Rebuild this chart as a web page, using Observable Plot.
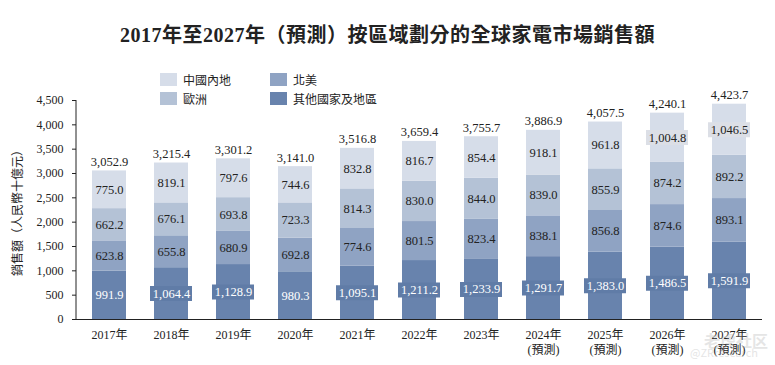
<!DOCTYPE html>
<html><head><meta charset="utf-8">
<script src="https://cdn.jsdelivr.net/npm/d3@7"></script>
<script src="https://cdn.jsdelivr.net/npm/@observablehq/plot@0.6"></script>
<style>
body{margin:0;background:#fff;}
#wrap{position:relative;width:775px;height:365px;overflow:hidden;font-family:"Liberation Serif","Noto Sans CJK TC",serif;color:#222;}
#title{position:absolute;top:22px;left:0;width:775px;text-align:center;font-size:20px;font-weight:bold;letter-spacing:0.5px;line-height:26px;}
#legend{position:absolute;left:160px;top:70px;display:grid;grid-template-columns:110px 140px;grid-auto-rows:19px;font-size:12px;}
.li{display:flex;align-items:center;}
.sw{width:17px;height:13px;margin-right:6px;}
#chart{position:absolute;left:0;top:0;}
.wm{position:absolute;color:#aaa;opacity:0.3;font-family:"Noto Sans CJK SC",sans-serif;white-space:nowrap;}
</style></head>
<body><div id="wrap"><div id="chart"></div><div id="title">2017年至2027年（預測）按區域劃分的全球家電市場銷售額</div><div id="legend"></div>
<div class="wm" style="left:704px;top:328px;font-size:16px;font-weight:bold;">老虎社区</div>
<div class="wm" style="left:690px;top:344px;font-size:11px;">@ZRresearch</div>
</div>
<script>
const years = ["2017年","2018年","2019年","2020年","2021年","2022年","2023年","2024年","2025年","2026年","2027年"];
const forecast = [false,false,false,false,false,false,false,true,true,true,true];
const regionNames = ["其他國家及地區","北美","歐洲","中國內地"];
const legendOrder = ["中國內地","北美","歐洲","其他國家及地區"];
const regionColors = ["#6883ad","#8fa3c3","#b4c2d6","#d6dde9"];
const other = [991.9,1064.4,1128.9,980.3,1095.1,1211.2,1233.9,1291.7,1383.0,1486.5,1591.9];
const northAmerica = [623.8,655.8,680.9,692.8,774.6,801.5,823.4,838.1,856.8,874.6,893.1];
const europe = [662.2,676.1,693.8,723.3,814.3,830.0,844.0,839.0,855.9,874.2,892.2];
const chinaMainland = [775.0,819.1,797.6,744.6,832.8,816.7,854.4,918.1,961.8,1004.8,1046.5];
const totals = [3052.9,3215.4,3301.2,3141.0,3516.8,3659.4,3755.7,3886.9,4057.5,4240.1,4423.7];
const yTicks = [0,500,1000,1500,2000,2500,3000,3500,4000,4500];
const yLabel = "銷售額（人民幣十億元）";

const seriesValues = [other, northAmerica, europe, chinaMainland];
const rows = [];
years.forEach((yr, i) => {
  regionNames.forEach((r, k) => rows.push({year: yr, region: r, value: seriesValues[k][i]}));
});
const fmt = d3.format(",.1f");
const colorOf = Object.fromEntries(regionNames.map((r, k) => [r, regionColors[k]]));

const legend = document.getElementById("legend");
legendOrder.forEach(r => {
  const d = document.createElement("div"); d.className = "li";
  d.innerHTML = `<span class="sw" style="background:${colorOf[r]}"></span><span>${r}</span>`;
  legend.appendChild(d);
});

const stackOpts = {x: "year", y: "value", z: "region", order: null};
const chart = Plot.plot({
  width: 775, height: 365,
  marginLeft: 76, marginRight: 13, marginTop: 100, marginBottom: 46,
  style: {fontFamily: '"Liberation Serif","Noto Sans CJK TC",serif', fontSize: "12px", color: "#222", background: "transparent"},
  x: {domain: years, paddingInner: 0.456, paddingOuter: 0.224, label: null},
  y: {domain: [0, 4500], label: null},
  color: {domain: regionNames, range: regionColors},
  opacity: {domain: [0, 1], range: [0, 1]},
  marks: [
    Plot.barY(rows, Plot.stackY({...stackOpts, fill: "region"})),
    Plot.tickY(rows, Plot.stackY({...stackOpts, stroke: "#607ca7", strokeWidth: 15, strokeOpacity: d => (d.region === "其他國家及地區" && d.value >= 1000) ? 1 : 0, insetLeft: -4, insetRight: -4})),
    Plot.tickY(rows, Plot.stackY({...stackOpts, stroke: "#dcdfe6", strokeWidth: 15, strokeOpacity: d => (d.region === "中國內地" && d.value >= 1000) ? 1 : 0, insetLeft: -4, insetRight: -4})),
    Plot.text(rows, Plot.stackY({...stackOpts, text: d => fmt(d.value), fill: d => d.region === "其他國家及地區" ? "#ffffff" : "#222222", fontSize: 12.5})),
    Plot.text(years, {x: d => d, y: (d, i) => totals[i], text: (d, i) => fmt(totals[i]), dy: -9, fill: "#222", fontSize: 12.5}),
    Plot.ruleY([0], {stroke: "#222"}),
    (index, scales, values, dimensions) => {
      const line = d3.create("svg:line")
        .attr("x1", dimensions.marginLeft).attr("x2", dimensions.marginLeft)
        .attr("y1", scales.y(yTicks[0])).attr("y2", scales.y(yTicks[yTicks.length - 1]))
        .attr("stroke", "#222");
      return line.node();
    },
    Plot.axisY({ticks: yTicks, tickFormat: d3.format(","), tickSize: 4, tickPadding: 9, label: null, fontSize: 12}),
    Plot.text([yLabel], {frameAnchor: "left", textAnchor: "middle", text: d => d, rotate: -90, dx: -58, fontSize: 12, fill: "#222"}),
    Plot.axisX({tickSize: 0, tickPadding: 8, tickFormat: d => forecast[years.indexOf(d)] ? d + "\n(預測)" : d, fontSize: 12, lineHeight: 1.3})
  ]
});
document.getElementById("chart").appendChild(chart);
</script></body></html>
